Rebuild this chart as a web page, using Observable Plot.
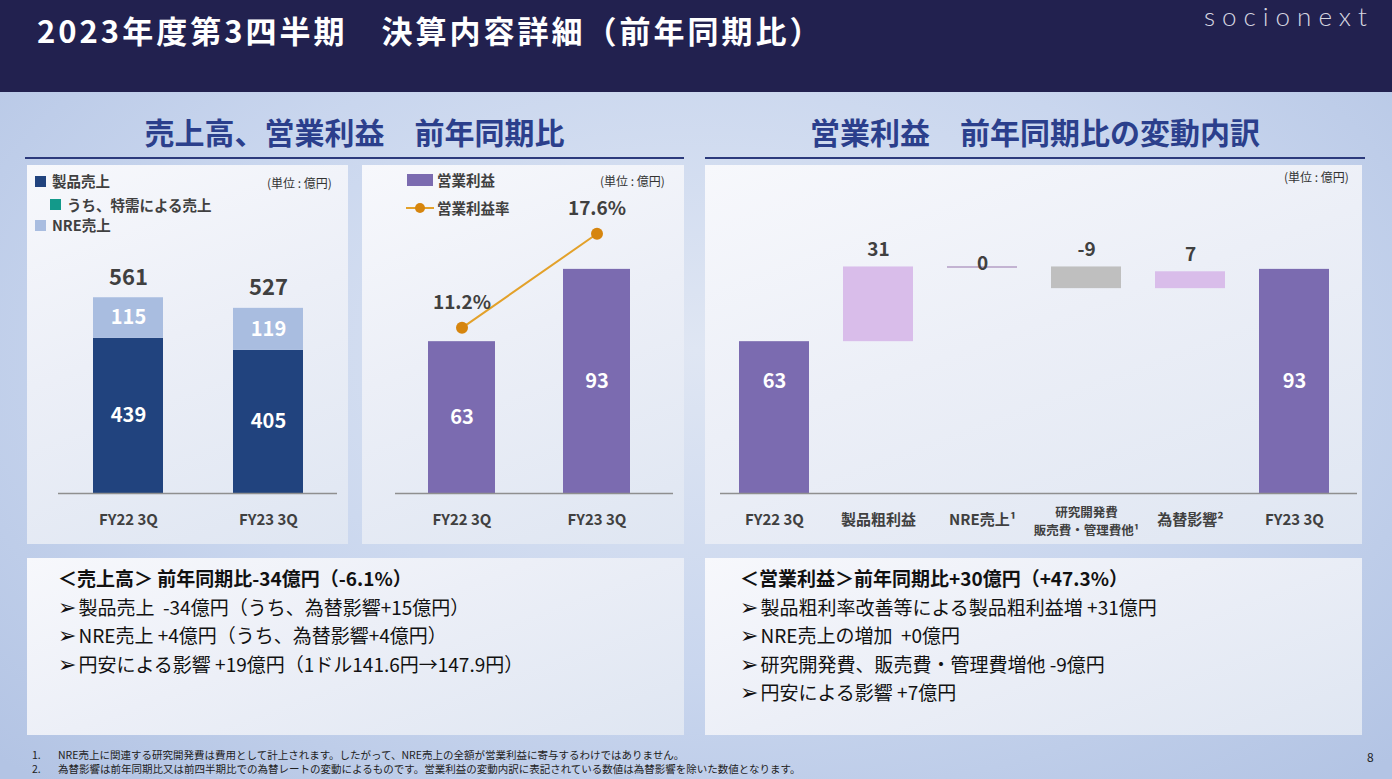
<!DOCTYPE html>
<html><head><meta charset="utf-8">
<script src="https://cdn.jsdelivr.net/npm/d3@7"></script>
<script src="https://cdn.jsdelivr.net/npm/@observablehq/plot@0.6"></script>
<style>
html,body{margin:0;padding:0;}
body{width:1392px;height:779px;overflow:hidden;font-family:"Noto Sans CJK JP","Noto Sans",sans-serif;}
#page{position:relative;width:1392px;height:779px;background:radial-gradient(ellipse 70% 75% at 50% 45%,#dfe6f3 0%,#c9d6ee 55%,#b3c4e4 100%);}
#header{position:absolute;left:0;top:0;width:1392px;height:92px;background:#22214f;}
#title{position:absolute;left:37px;top:10px;color:#fff;font-size:31px;font-weight:700;letter-spacing:3px;line-height:40px;white-space:nowrap;}
#logo{position:absolute;left:1204px;top:0px;color:#d6d6e0;font-family:Lato,"Open Sans",sans-serif;font-weight:300;font-size:26px;letter-spacing:7px;line-height:32px;}
.sec{position:absolute;top:110px;color:#2b3f8c;font-size:30px;font-weight:700;text-align:center;line-height:42px;white-space:nowrap;}
.uline{position:absolute;top:157px;height:2px;background:#2c3a7c;}
.panel{position:absolute;background:linear-gradient(160deg,#f7f8fc 0%,#eceff7 45%,#dfe6f2 100%);}
.unit{position:absolute;font-size:12px;color:#333;white-space:nowrap;line-height:16px;}
.leg{position:absolute;font-size:14.5px;font-weight:700;color:#404040;white-space:nowrap;line-height:18px;}
.sq{position:absolute;width:11px;height:11px;}
.box{position:absolute;color:#111;font-size:19px;line-height:28.6px;white-space:nowrap;}
.box div{height:28.6px;overflow:visible;}
.box .h{font-weight:700;}
.arr{font-family:"DejaVu Sans",sans-serif;font-size:22px;line-height:10px;margin-right:2px;}
#foot{position:absolute;left:32px;top:748px;font-size:10.5px;color:#222;line-height:14px;white-space:nowrap;}
#foot span{display:inline-block;width:26px;}
#pnum{position:absolute;left:1367px;top:748px;font-size:12px;color:#222;}
</style></head>
<body><div id="page">
<div id="header">
  <div id="title">2023年度第3四半期　決算内容詳細（前年同期比）</div>
  <div id="logo">socionext</div>
</div>
<div class="sec" style="left:25px;width:659px;">売上高、営業利益　前年同期比</div>
<div class="uline" style="left:25px;width:659px;"></div>
<div class="sec" style="left:705px;width:660px;">営業利益　前年同期比の変動内訳</div>
<div class="uline" style="left:705px;width:660px;"></div>

<div class="panel" id="p1" style="left:27px;top:165px;width:321px;height:379px;">
  <div class="sq" style="left:8px;top:11px;background:#21437e;"></div>
  <div class="leg" style="left:25px;top:7px;">製品売上</div>
  <div class="sq" style="left:23px;top:34px;background:#13998a;"></div>
  <div class="leg" style="left:40px;top:31px;">うち、特需による売上</div>
  <div class="sq" style="left:8px;top:55px;background:#a9bde0;"></div>
  <div class="leg" style="left:25px;top:51px;">NRE売上</div>
  <div class="unit" style="left:240px;top:10px;">(単位 : 億円)</div>
</div>
<div class="panel" id="p2" style="left:362px;top:165px;width:322px;height:379px;">
  <div class="sq" style="left:45px;top:9px;width:26px;height:12px;background:#7b6bb0;"></div>
  <div class="leg" style="left:75px;top:6px;">営業利益</div>
  <svg style="position:absolute;left:44px;top:35px;" width="28" height="16"><line x1="0" y1="8" x2="28" y2="8" stroke="#e3a12a" stroke-width="2"/><circle cx="14" cy="8" r="5" fill="#d6850e"/></svg>
  <div class="leg" style="left:75px;top:34px;">営業利益率</div>
  <div class="unit" style="left:238px;top:8px;">(単位 : 億円)</div>
</div>
<div class="panel" id="p3" style="left:705px;top:165px;width:657px;height:379px;">
  <div class="unit" style="left:579px;top:4px;">(単位 : 億円)</div>
</div>

<div class="panel box" style="left:27px;top:558px;padding:6px 0 0 31px;width:626px;height:171px;">
  <div class="h">＜売上高＞ 前年同期比-34億円（-6.1%）</div>
  <div><span class="arr">➢</span>製品売上&nbsp;&nbsp;-34億円（うち、為替影響+15億円）</div>
  <div><span class="arr">➢</span>NRE売上 +4億円（うち、為替影響+4億円）</div>
  <div><span class="arr">➢</span>円安による影響 +19億円（1ドル141.6円→147.9円）</div>
</div>
<div class="panel box" style="left:705px;top:558px;padding:6px 0 0 35px;width:622px;height:171px;">
  <div class="h">＜営業利益＞前年同期比+30億円（+47.3%）</div>
  <div><span class="arr">➢</span>製品粗利率改善等による製品粗利益増 +31億円</div>
  <div><span class="arr">➢</span>NRE売上の増加&nbsp;&nbsp;+0億円</div>
  <div><span class="arr">➢</span>研究開発費、販売費・管理費増他 -9億円</div>
  <div><span class="arr">➢</span>円安による影響 +7億円</div>
</div>

<div id="foot">
  <div><span>1.</span>NRE売上に関連する研究開発費は費用として計上されます。したがって、NRE売上の全額が営業利益に寄与するわけではありません。</div>
  <div><span>2.</span>為替影響は前年同期比又は前四半期比での為替レートの変動によるものです。営業利益の変動内訳に表記されている数値は為替影響を除いた数値となります。</div>
</div>
<div id="pnum">8</div>
</div>

<script>
// ---- data ----
const quarters = ["FY22 3Q", "FY23 3Q"];
const salesSeries = ["製品売上", "NRE売上"];
const productSales = [439, 405];
const nreSales = [115, 119];
const totalSales = [561, 527];

const operatingProfit = [63, 93];
const operatingMargin = [11.2, 17.6];

const bridgeCategories = ["FY22 3Q", "製品粗利益", "NRE売上", "研究開発費・販売費・管理費他", "為替影響", "FY23 3Q"];
const bridgeLabels = ["FY22 3Q", "製品粗利益", "NRE売上¹", "研究開発費\n販売費・管理費他¹", "為替影響²", "FY23 3Q"];
const bridgeValues = [63, 31, 0, -9, 7, 93];
const bridgeKinds = ["total", "delta", "delta", "delta", "delta", "total"];

// ---- style ----
const FONT = '"Noto Sans CJK JP","Noto Sans",sans-serif';
const GREY = "#404040";
const C_PRODUCT = "#21437e", C_NRE = "#a9bde0";
const C_PURPLE = "#7b6bb0", C_UP = "#d9bdea", C_DOWN = "#bfbfbf", C_ZERO = "#c3b3d2";
const C_LINE = "#e3a12a", C_DOT = "#d6850e";
const H = 379, MB = 51;
const baseStyle = {fontFamily: FONT, background: "transparent", overflow: "visible"};
const xLabelOpts = {frameAnchor: "bottom", lineAnchor: "middle", dy: 27, fill: GREY, fontSize: 15, fontWeight: "bold"};

function mount(id, plot) {
  plot.style.position = "absolute"; plot.style.left = "0"; plot.style.top = "0";
  document.getElementById(id).append(plot);
}

// ---- chart 1: stacked sales ----
const salesRows = [];
quarters.forEach((q, i) => {
  salesRows.push({q, series: salesSeries[0], v: productSales[i]});
  salesRows.push({q, series: salesSeries[1], v: nreSales[i]});
});
const totalsRows = quarters.map((q, i) => ({q, top: productSales[i] + nreSales[i], total: totalSales[i]}));

mount("p1", Plot.plot({
  width: 321, height: H, marginLeft: 31, marginRight: 11, marginTop: 116, marginBottom: MB,
  style: baseStyle,
  x: {type: "band", domain: quarters, range: [66, 276], paddingInner: 0.5, paddingOuter: 0, axis: null},
  y: {domain: [0, 600], axis: null},
  color: {domain: salesSeries, range: [C_PRODUCT, C_NRE]},
  marks: [
    Plot.barY(salesRows, {x: "q", y: "v", fill: "series"}),
    Plot.ruleY([0], {stroke: "#8f8f8f", strokeWidth: 1.5}),
    Plot.text(salesRows, Plot.stackY({x: "q", y: "v", z: "series", text: d => String(d.v), fill: "white", fontSize: 20, fontWeight: "bold"})),
    Plot.text(totalsRows, {x: "q", y: "top", text: d => String(d.total), dy: -20, fill: GREY, fontSize: 22, fontWeight: "bold"}),
    Plot.text(quarters, {x: d => d, text: d => d, ...xLabelOpts})
  ]
}));

// ---- chart 2: operating profit bars + margin line ----
const opRows = quarters.map((q, i) => ({q, v: operatingProfit[i], pct: operatingMargin[i]}));
const xOp = () => ({type: "band", domain: quarters, range: [66, 268], paddingInner: 0.504, paddingOuter: 0, axis: null});

mount("p2", Plot.plot({
  width: 322, height: H, marginLeft: 33, marginRight: 11, marginTop: 87, marginBottom: MB,
  style: baseStyle,
  x: xOp(),
  y: {domain: [0, 100], axis: null},
  marks: [
    Plot.barY(opRows, {x: "q", y: "v", fill: C_PURPLE}),
    Plot.ruleY([0], {stroke: "#8f8f8f", strokeWidth: 1.5}),
    Plot.text(opRows, {x: "q", y: d => d.v / 2, text: d => String(d.v), fill: "white", fontSize: 20, fontWeight: "bold"}),
    Plot.text(quarters, {x: d => d, text: d => d, ...xLabelOpts})
  ]
}));
mount("p2", Plot.plot({
  width: 322, height: H, marginLeft: 33, marginRight: 11, marginTop: 33, marginBottom: 52,
  style: baseStyle,
  x: xOp(),
  y: {domain: [0, 20], axis: null},
  marks: [
    Plot.line(opRows, {x: "q", y: "pct", stroke: C_LINE, strokeWidth: 2}),
    Plot.dot(opRows, {x: "q", y: "pct", r: 6, fill: C_DOT}),
    Plot.text(opRows, {x: "q", y: "pct", text: d => d.pct.toFixed(1) + "%", dy: -25, fill: GREY, fontSize: 19, fontWeight: "bold"})
  ]
}));

// ---- chart 3: bridge (waterfall) ----
let run = 0;
const bridge = bridgeCategories.map((c, i) => {
  const v = bridgeValues[i], k = bridgeKinds[i];
  let start, end;
  if (k === "total") { start = 0; end = v; } else { start = run; end = run + v; }
  run = end;
  return {cat: c, label: bridgeLabels[i], value: v, kind: k, start, end};
});
const totals = bridge.filter(d => d.kind === "total");
const deltas = bridge.filter(d => d.kind === "delta");
const labelLevel = d3.max(totals, d => d.end) / 2;
const oneLine = bridge.filter(d => !d.label.includes("\n"));
const twoLine = bridge.filter(d => d.label.includes("\n"));

mount("p3", Plot.plot({
  width: 657, height: H, marginLeft: 15, marginRight: 5, marginTop: 87, marginBottom: MB,
  style: baseStyle,
  x: {type: "band", domain: bridgeCategories, range: [33, 624], paddingInner: 0.328, paddingOuter: 0, axis: null},
  y: {domain: [0, 100], axis: null},
  marks: [
    Plot.barY(totals, {x: "cat", y1: "start", y2: "end", fill: C_PURPLE}),
    Plot.barY(deltas.filter(d => d.value !== 0), {x: "cat", y1: "start", y2: "end", fill: d => d.value > 0 ? C_UP : C_DOWN}),
    Plot.tickY(deltas.filter(d => d.value === 0), {x: "cat", y: "end", stroke: C_ZERO, strokeWidth: 2}),
    Plot.ruleY([0], {stroke: "#8f8f8f", strokeWidth: 1.5}),
    Plot.text(totals, {x: "cat", y: () => labelLevel, text: d => String(d.value), fill: "white", fontSize: 20, fontWeight: "bold"}),
    Plot.text(deltas.filter(d => d.value !== 0), {x: "cat", y: d => Math.max(d.start, d.end), text: d => String(d.value), dy: -17, fill: GREY, fontSize: 19, fontWeight: "bold"}),
    Plot.text(deltas.filter(d => d.value === 0), {x: "cat", y: "end", text: d => String(d.value), dy: -3, fill: GREY, fontSize: 19, fontWeight: "bold"}),
    Plot.text(oneLine, {x: "cat", text: "label", ...xLabelOpts}),
    Plot.text(twoLine, {x: "cat", text: "label", ...xLabelOpts, fontSize: 12.5, lineHeight: 1.45})
  ]
}));
</script>
</body></html>
